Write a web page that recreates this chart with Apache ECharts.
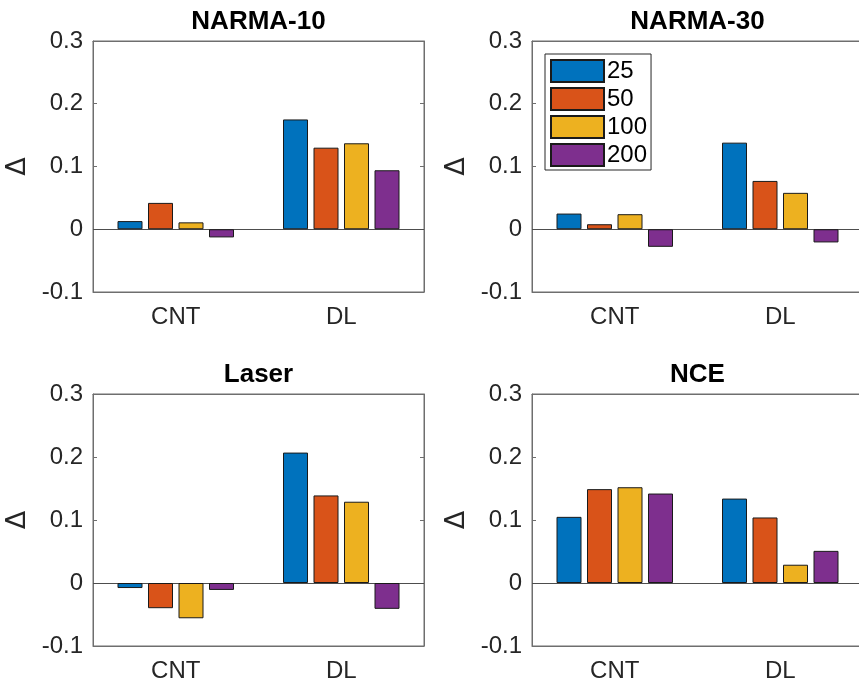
<!doctype html>
<html lang="en">
<head>
    <meta charset="utf-8">
    <title>delta bars</title>
    <script src="https://cdn.jsdelivr.net/npm/echarts@6/dist/echarts.min.js"></script>
    <style>
        *{margin:0;padding:0}
        html,body{width:100%;height:100%;background:#fff}
        #main{width:859px;height:685px}
    </style>
</head>
<body>
<div id="main"></div>
<script type="text/javascript">
    var categories = ['CNT', 'DL'];
    var sizes = ['25', '50', '100', '200'];
    var panelTitles = ['NARMA-10', 'NARMA-30', 'Laser', 'NCE'];

    // one row per size (25, 50, 100, 200), values for CNT and DL
    var narma10 = [[0.013, 0.175], [0.042, 0.130], [0.011, 0.137], [-0.013, 0.094]];
    var narma30 = [[0.025, 0.138], [0.008, 0.077], [0.024, 0.058], [-0.028, -0.021]];
    var laser   = [[-0.008, 0.207], [-0.040, 0.139], [-0.056, 0.129], [-0.011, -0.041]];
    var nce     = [[0.105, 0.134], [0.149, 0.104], [0.152, 0.029], [0.142, 0.051]];
    var panelData = [narma10, narma30, laser, nce];

    var colors = ['#0072BD', '#D95319', '#EDB120', '#7E2F8E'];
    var axisColor = '#262626';
    var lineColor = '#6e6e6e';
    var font = '"Liberation Sans", Arial, sans-serif';

    // grid boxes (pixels); right column runs a few px past the canvas edge like the original
    var boxes = [
        {left: 93, top: 41, width: 331, height: 251},
        {left: 532, top: 41, width: 331, height: 251},
        {left: 93, top: 394, width: 331, height: 252},
        {left: 532, top: 394, width: 331, height: 252}
    ];

    var grid = [], xAxis = [], yAxis = [], title = [], series = [];

    function tickLabel(v) {
        if (Math.abs(v) < 1e-9) return '0';
        return (Math.round(v * 10) / 10).toFixed(1);
    }

    boxes.forEach(function(b, i) {
        grid.push({
            left: b.left, top: b.top, width: b.width, height: b.height,
            outerBoundsMode: 'none', containLabel: false,
            show: true, borderColor: lineColor, borderWidth: 1, backgroundColor: 'transparent'
        });
        title.push({
            text: panelTitles[i],
            left: b.left + b.width / 2,
            top: b.top - 32,
            textAlign: 'center',
            padding: 0,
            textStyle: {fontFamily: font, fontSize: 26, fontWeight: 'bold', color: '#000'}
        });
        // bottom axis with labels
        xAxis.push({
            type: 'category', gridIndex: i, data: categories, position: 'bottom',
            axisLine: {onZero: false, lineStyle: {color: lineColor, width: 1}},
            axisTick: {inside: true, alignWithLabel: true, length: 4, lineStyle: {color: lineColor}},
            axisLabel: {fontFamily: font, fontSize: 24, color: axisColor, margin: 13},
            splitLine: {show: false}
        });
        // top axis, ticks only
        xAxis.push({
            type: 'category', gridIndex: i, data: categories, position: 'top',
            axisLine: {onZero: false, lineStyle: {color: lineColor, width: 1}},
            axisTick: {inside: true, alignWithLabel: true, length: 4, lineStyle: {color: lineColor}},
            axisLabel: {show: false},
            splitLine: {show: false}
        });
        yAxis.push({
            type: 'value', gridIndex: i, position: 'left',
            min: -0.1, max: 0.3, interval: 0.1,
            name: 'Δ', nameLocation: 'middle', nameRotate: 90, nameGap: 62,
            nameTextStyle: {fontFamily: '"DejaVu Sans", sans-serif', fontSize: 27, color: axisColor},
            axisLine: {show: true, lineStyle: {color: lineColor, width: 1}},
            axisTick: {show: true, inside: true, length: 4, lineStyle: {color: lineColor}},
            axisLabel: {fontFamily: font, fontSize: 24, color: axisColor, margin: 10, formatter: tickLabel},
            splitLine: {show: false}
        });
        yAxis.push({
            type: 'value', gridIndex: i, position: 'right',
            min: -0.1, max: 0.3, interval: 0.1,
            axisLine: {show: true, lineStyle: {color: lineColor, width: 1}},
            axisTick: {show: true, inside: true, length: 4, lineStyle: {color: lineColor}},
            axisLabel: {show: false},
            splitLine: {show: false}
        });

        var rows = panelData[i];
        sizes.forEach(function(s, k) {
            var item = {
                name: s,
                type: 'bar',
                xAxisIndex: i * 2,
                yAxisIndex: i * 2,
                data: rows[k],
                barWidth: 25,
                barGap: '22%',
                itemStyle: {color: colors[k], borderColor: '#1a1a1a', borderWidth: 1},
                emphasis: {disabled: true}
            };
            if (k === 0) {
                item.markLine = {
                    silent: true,
                    symbol: ['none', 'none'],
                    label: {show: false},
                    lineStyle: {color: '#4d4d4d', width: 1, type: 'solid'},
                    data: [{yAxis: 0}],
                    z: 1
                };
            }
            series.push(item);
        });
    });

    var myChart = echarts.init(document.getElementById('main'));
    var option = {
        animation: false,
        backgroundColor: '#fff',
        title: title,
        grid: grid,
        xAxis: xAxis,
        yAxis: yAxis,
        legend: {
            data: sizes,
            orient: 'vertical',
            left: 545,
            top: 54,
            itemWidth: 53,
            itemHeight: 22,
            itemGap: 4,
            icon: 'rect',
            borderColor: axisColor,
            borderWidth: 1,
            padding: [5, 4, 3, 5],
            backgroundColor: '#fff',
            selectedMode: false,
            textStyle: {fontFamily: font, fontSize: 24, lineHeight: 22, color: '#000', padding: [0, 0, 0, -2]}
        },
        series: series
    };
    myChart.setOption(option);
</script>
</body>
</html>
